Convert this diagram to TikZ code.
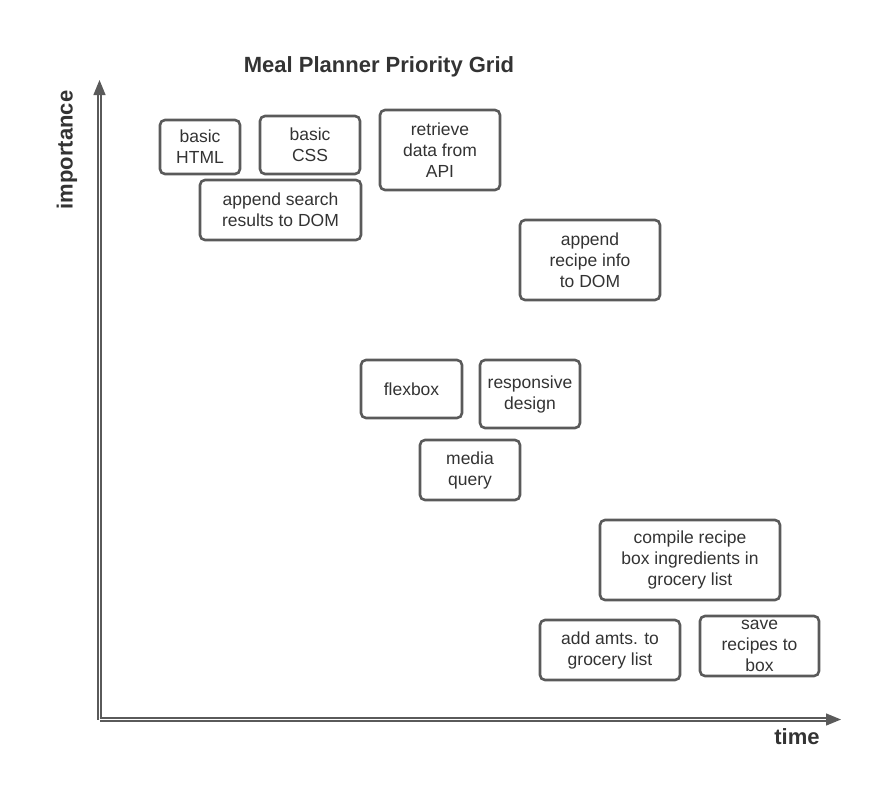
\documentclass[tikz,border=0pt]{standalone}
\usepackage{fontspec}
\setmainfont{Liberation Sans}
\usepackage{xcolor}
\usetikzlibrary{positioning, arrows.meta}

\definecolor{linegray}{HTML}{5A5A5A}
\definecolor{textgray}{HTML}{333333}

\tikzset{
    task/.style={draw=linegray, line width=2.6pt, rounded corners=5pt, align=center,
        inner sep=0pt, text=textgray, font=\fontsize{17.5}{21}\selectfont},
    axis/.style={draw=linegray, line width=1.3pt, double=white, double distance=1.6pt,
        -{Triangle[length=15pt, width=12pt, fill=linegray]}},
    heading/.style={text=textgray, font=\fontsize{22}{26}\selectfont\bfseries}
}

\begin{document}
\begin{tikzpicture}[x=1pt, y=-1pt]
                \useasboundingbox (0, 0) rectangle (894, 800);

                % axes
                \coordinate (origin) at (99.5, 719.5);
                \coordinate (ytop) at (99.5, 80);
                \coordinate (xend) at (841, 719.5);
                \draw[axis] (origin) -- (ytop);
                \draw[axis] (origin) -- (xend);

                \node[heading] (title) at (379, 67) {Meal Planner Priority Grid};
                \node[heading, rotate=90] (ylabel) at (67, 150) {importance};
                \node[heading] (xlabel) at (797, 737) {time};

                % tasks
                \node[task, minimum width=80pt, minimum height=54pt] (html) at (200, 147) {basic\\HTML};
                \node[task, minimum width=100pt, minimum height=58pt] (css) at (310, 145) {basic\\CSS};
                \node[task, minimum width=120pt, minimum height=80pt] (api) at (440, 150) {retrieve\\data from\\API};
                \node[task, minimum width=161pt, minimum height=60pt] (search) at (280.5, 210) {append search\\results to DOM};
                \node[task, minimum width=140pt, minimum height=80pt] (recipe) at (590, 260) {append\\recipe info\\to DOM};
                \node[task, minimum width=101pt, minimum height=58pt] (flex) at (411.5, 389) {flexbox};
                \node[task, minimum width=100pt, minimum height=68pt] (resp) at (530, 394) {responsive\\design};
                \node[task, minimum width=100pt, minimum height=60pt] (media) at (470, 470) {media\\query};
                \node[task, minimum width=180pt, minimum height=80pt] (compile) at (690, 560) {compile recipe\\box ingredients in\\grocery list};
                \node[task, minimum width=140pt, minimum height=60pt] (amts) at (610, 650) {add amts. to\\grocery list};
                \node[task, minimum width=119pt, minimum height=60pt] (save) at (759.5, 646) {save\\recipes to\\box};
            \end{tikzpicture}
\end{document}
